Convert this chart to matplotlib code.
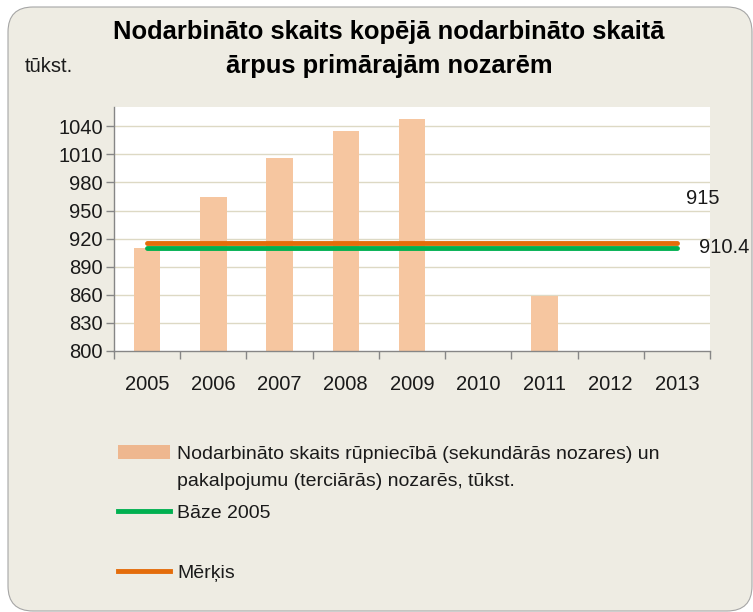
import matplotlib.pyplot as plt
from matplotlib.patches import FancyBboxPatch, Patch
from matplotlib.lines import Line2D

years = ['2005', '2006', '2007', '2008', '2009', '2010', '2011', '2012', '2013']
employed = [910.4, 965, 1006, 1035, 1047.5, None, 859, None, None]
base_2005 = 910.4
target = 915
yticks = [800, 830, 860, 890, 920, 950, 980, 1010, 1040]

title = 'Nodarbināto skaits kopējā nodarbināto skaitā\nārpus primārajām nozarēm'
bar_label = ['Nodarbināto skaits rūpniecībā (sekundārās nozares) un',
             'pakalpojumu (terciārās) nozarēs, tūkst.']

plt.rcParams['font.family'] = ['Liberation Sans', 'DejaVu Sans']

fig = plt.figure(figsize=(7.53, 6.12), dpi=100)
fig.patch.set_facecolor('white')

# rounded chart area background
bg = FancyBboxPatch((0.08, 0.01), 7.44, 6.04,
                    boxstyle='round,pad=0,rounding_size=0.25',
                    transform=fig.dpi_scale_trans,
                    facecolor='#EEECE3', edgecolor='#A6A6A6', linewidth=0.8,
                    zorder=-10)
fig.patches.append(bg)

ax = fig.add_axes([0.1514, 0.4265, 0.7915, 0.3992])
ax.set_facecolor('white')

x = list(range(len(years)))
bx = [i for i, v in zip(x, employed) if v is not None]
bv = [v for v in employed if v is not None]
ax.bar(bx, [v - 800 for v in bv], bottom=800, width=0.4,
       color='#F6C6A0', zorder=2)

ax.plot([0, len(years) - 1], [base_2005, base_2005], color='#00B050',
        linewidth=3.5, solid_capstyle='round', zorder=3)
ax.plot([0, len(years) - 1], [target, target], color='#E46C0A',
        linewidth=3.5, solid_capstyle='round', zorder=4)

ax.set_xlim(-0.5, len(years) - 0.5)
ax.set_ylim(800, 1061)
ax.set_yticks(yticks)
ax.set_yticklabels([str(t) for t in yticks])
ax.set_xticks(x)
ax.set_xticklabels(years)
ax.set_xticks([i - 0.5 for i in range(len(years) + 1)], minor=True)
ax.tick_params(axis='x', which='major', length=0, pad=17, labelsize=14.5, labelcolor='#1a1a1a')
ax.tick_params(axis='x', which='minor', length=6, color='#868686', width=1)
ax.tick_params(axis='y', length=6, color='#868686', width=1, pad=2, labelsize=14.5, labelcolor='#1a1a1a')

for t in yticks[1:]:
    ax.axhline(t, color='#DDD9C4', linewidth=1, zorder=1)

for s in ['top', 'right']:
    ax.spines[s].set_visible(False)
for s in ['left', 'bottom']:
    ax.spines[s].set_color('#868686')
    ax.spines[s].set_linewidth(1)

ax.text(8.14, 963, str(target), fontsize=14.5, color='#1a1a1a',
        ha='left', va='center', clip_on=False)
ax.text(8.33, base_2005, str(base_2005), fontsize=14.5, color='#1a1a1a',
        ha='left', va='center', clip_on=False)

fig.text(389 / 753, 1 - 49 / 612, title, ha='center', va='center',
         fontsize=18.4, fontweight='bold', linespacing=1.5, color='black')
fig.text(25 / 753, 1 - 67 / 612, 'tūkst.', ha='left', va='center',
         fontsize=14.5, color='#1a1a1a')

leg_kw = dict(frameon=False, fontsize=14, handlelength=2.68, handletextpad=0.36,
              borderpad=0, borderaxespad=0, labelcolor='#1a1a1a')
fig.legend([Patch(facecolor='#EEB78F')], [bar_label[0]], loc='center left',
           bbox_to_anchor=(118 / 753, 1 - 454 / 612), **leg_kw)
fig.text(177 / 753, 1 - 482 / 612, bar_label[1], ha='left', va='center',
         fontsize=14, color='#1a1a1a')
fig.legend([Line2D([], [], color='#00B050', linewidth=3.5)], ['Bāze 2005'],
           loc='center left', bbox_to_anchor=(118 / 753, 1 - 513 / 612), **leg_kw)
fig.legend([Line2D([], [], color='#E46C0A', linewidth=3.5)], ['Mērķis'],
           loc='center left', bbox_to_anchor=(118 / 753, 1 - 573 / 612), **leg_kw)

fig.savefig('out.png', dpi=100)
